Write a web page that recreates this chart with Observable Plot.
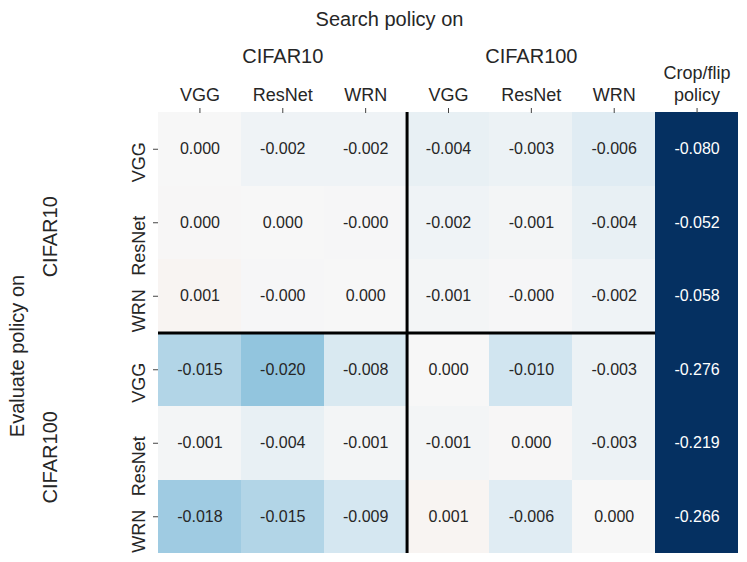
<!DOCTYPE html>
<html><head><meta charset="utf-8">
<script src="https://cdn.jsdelivr.net/npm/d3@7"></script>
<script src="https://cdn.jsdelivr.net/npm/@observablehq/plot@0.6"></script>
<style>
body{margin:0;background:#fff;font-family:"Liberation Sans",sans-serif}
#chart svg{display:block}
</style>
</head><body><div id="chart"></div>
<script>
// Columns: policy searched on (dataset / model), plus the crop/flip baseline
const searchLabels = ["VGG", "ResNet", "WRN", "VGG", "ResNet", "WRN", "Crop/flip\npolicy"];
const searchGroups = ["CIFAR10", "CIFAR100"];
// Rows: policy evaluated on (dataset / model)
const evalLabels = ["VGG", "ResNet", "WRN", "VGG", "ResNet", "WRN"];
const evalGroups = ["CIFAR10", "CIFAR100"];

// Cell values, one array per evaluation row
const c10VGG    = [0.0000, -0.002, -0.002, -0.004, -0.003, -0.006, -0.080];
const c10ResNet = [0.0003,  0.000, -0.0003, -0.002, -0.001, -0.004, -0.052];
const c10WRN    = [0.001,  -0.0003, 0.0001, -0.001, -0.0003, -0.002, -0.058];
const c100VGG   = [-0.015, -0.020, -0.008,  0.000, -0.010, -0.003, -0.276];
const c100ResNet= [-0.001, -0.004, -0.001, -0.001,  0.0002, -0.003, -0.219];
const c100WRN   = [-0.018, -0.015, -0.009,  0.001, -0.006,  0.000, -0.266];
const rows = [c10VGG, c10ResNet, c10WRN, c100VGG, c100ResNet, c100WRN];

// Blue (negative) to red (positive) diverging palette
const palette = ["#053061", "#2166ac", "#4393c3", "#92c5de", "#d1e5f0", "#f7f7f7",
                 "#fddbc7", "#f4a582", "#d6604d", "#b2182b", "#67001f"];

const cells = rows.flatMap((vals, r) => vals.map((v, c) => ({r, c, v})));
const fmt = v => v.toFixed(3);
const ink = "#262626";
const font = "Liberation Sans";

const chart = Plot.plot({
  width: 747,
  height: 562,
  marginLeft: 158,
  marginRight: 9,
  marginTop: 112,
  marginBottom: 9,
  style: {fontFamily: font, color: ink, background: "#fff"},
  x: {domain: [0, searchLabels.length], label: null},
  y: {domain: [0, evalLabels.length], reverse: true, label: null},
  color: {type: "diverging", interpolate: d3.piecewise(d3.interpolateRgb, palette), domain: [-0.05, 0.05], pivot: 0, clamp: true},
  marks: [
    Plot.rect(cells, {x1: d => d.c, x2: d => d.c + 1, y1: d => d.r, y2: d => d.r + 1, fill: "v", shapeRendering: "crispEdges"}),
    Plot.text(cells.filter(d => d.v > -0.04), {x: d => d.c + 0.5, y: d => d.r + 0.5, text: d => fmt(d.v), fill: ink, fontSize: 16}),
    Plot.text(cells.filter(d => d.v <= -0.04), {x: d => d.c + 0.5, y: d => d.r + 0.5, text: d => fmt(d.v), fill: "white", fontSize: 16}),
    Plot.ruleX([3], {y1: 0, y2: 6, stroke: "black", strokeWidth: 3}),
    Plot.ruleY([3], {x1: 0, x2: 6, stroke: "black", strokeWidth: 3}),
    // column tick marks + labels
    Plot.axisX(searchLabels.map((d, i) => i + 0.5), {anchor: "top", tickSize: 5, tickPadding: 7, tickFormat: v => searchLabels[Math.floor(v)], fontSize: 18, lineHeight: 1.2, stroke: "#444", fill: ink, label: null}),
    // row tick marks
    Plot.axisY(evalLabels.map((d, i) => i + 0.5), {anchor: "left", tickSize: 5, tickFormat: () => "", stroke: "#444", label: null}),
    // row labels (rotated)
    Plot.text(evalLabels, {y: (d, i) => i + 0.5, text: d => d, frameAnchor: "left", rotate: -90, textAnchor: "end", lineAnchor: "middle", dx: -19, dy: -7, fontSize: 18, fill: ink}),
    // column group labels
    Plot.text(searchGroups, {x: (d, i) => i * 3 + 1.5, text: d => d, frameAnchor: "top", textAnchor: "middle", lineAnchor: "bottom", dy: -50, fontSize: 20, fill: ink}),
    // row group labels
    Plot.text(evalGroups, {y: (d, i) => i * 3 + 1.5, text: d => d, frameAnchor: "left", rotate: -90, textAnchor: "middle", lineAnchor: "middle", dx: -108, dy: 14, fontSize: 20, fill: ink}),
    // overall titles
    Plot.text(["Search policy on"], {text: d => d, frameAnchor: "top", textAnchor: "middle", lineAnchor: "bottom", dx: -59, dy: -87, fontSize: 20, fill: ink}),
    Plot.text(["Evaluate policy on"], {text: d => d, frameAnchor: "left", rotate: -90, textAnchor: "middle", lineAnchor: "middle", dx: -141, dy: 23, fontSize: 20, fill: ink})
  ]
});
document.getElementById("chart").append(chart);
</script>
</body></html>
